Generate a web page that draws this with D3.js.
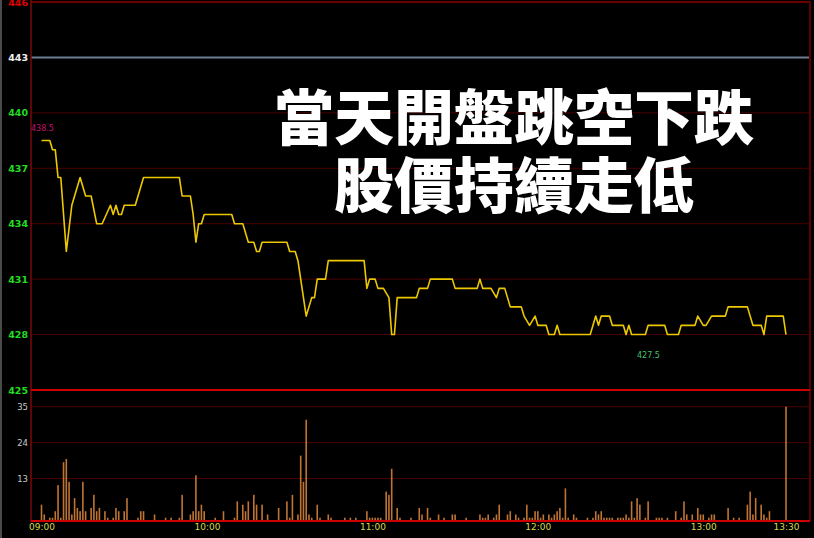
<!DOCTYPE html>
<html>
<head>
<meta charset="utf-8">
<script src="https://cdn.jsdelivr.net/npm/d3@7"></script>
<style>
  body { margin: 0; background: #000; }
  svg { display: block; }
</style>
</head>
<body>
<svg width="814" height="538"></svg>
<script>
// minutes after 09:00 and the price at each turn of the line
const priceTimes = [0, 3, 4, 5, 6, 7, 9, 11, 14, 16, 18, 20, 22, 25, 26, 27, 28, 29, 30, 34, 37, 50, 51, 54, 55, 56, 57, 58, 59, 69, 70, 73, 75, 77, 78, 79, 80, 89, 90, 92, 93, 96, 98, 99, 100, 103, 104, 117, 118, 119, 121, 122, 124, 126, 127, 128, 129, 136, 137, 140, 141, 149, 150, 158, 159, 160, 163, 165, 166, 168, 170, 174, 175, 177, 179, 180, 183, 184, 186, 187, 188, 199, 201, 202, 203, 206, 207, 211, 212, 213, 214, 219, 220, 226, 227, 231, 232, 237, 238, 240, 241, 243, 248, 249, 256, 258, 261, 262, 263, 269, 270];
const prices = [438.5, 438.5, 438.0, 438.0, 436.5, 436.5, 432.5, 435.0, 436.5, 435.5, 435.5, 434.0, 434.0, 435.0, 434.5, 435.0, 434.5, 434.5, 435.0, 435.0, 436.5, 436.5, 435.5, 435.5, 434.5, 433.0, 434.0, 434.0, 434.5, 434.5, 434.0, 434.0, 433.0, 433.0, 432.5, 432.5, 433.0, 433.0, 432.5, 432.5, 432.0, 429.0, 430.0, 430.0, 431.0, 431.0, 432.0, 432.0, 430.5, 431.0, 431.0, 430.5, 430.5, 430.0, 428.0, 428.0, 430.0, 430.0, 430.5, 430.5, 431.0, 431.0, 430.5, 430.5, 431.0, 430.5, 430.5, 430.0, 430.5, 430.5, 429.5, 429.5, 429.0, 428.5, 429.0, 428.5, 428.5, 428.0, 428.0, 428.5, 428.0, 428.0, 429.0, 428.5, 429.0, 429.0, 428.5, 428.5, 428.0, 428.5, 428.0, 428.0, 428.5, 428.5, 428.0, 428.0, 428.5, 428.5, 429.0, 428.5, 428.5, 429.0, 429.0, 429.5, 429.5, 428.5, 428.5, 428.0, 429.0, 429.0, 428.0];

// volume per minute
const volTimes = [0, 1, 3, 4, 5, 6, 7, 8, 9, 10, 11, 12, 13, 14, 15, 16, 18, 19, 20, 21, 23, 24, 26, 27, 28, 30, 31, 35, 36, 37, 41, 45, 47, 50, 51, 54, 55, 56, 57, 58, 59, 63, 66, 70, 71, 73, 74, 75, 77, 78, 80, 82, 86, 89, 90, 91, 93, 94, 95, 96, 97, 98, 100, 101, 104, 105, 110, 112, 114, 118, 119, 120, 121, 122, 123, 125, 126, 127, 129, 130, 134, 137, 138, 140, 141, 144, 146, 149, 150, 154, 159, 160, 161, 162, 164, 165, 166, 169, 170, 172, 173, 175, 176, 177, 178, 179, 180, 181, 182, 184, 185, 186, 187, 188, 189, 190, 191, 193, 194, 198, 200, 201, 202, 203, 204, 205, 206, 207, 209, 210, 211, 212, 213, 214, 215, 216, 217, 219, 220, 223, 224, 225, 227, 230, 232, 233, 234, 236, 238, 239, 240, 242, 243, 244, 249, 251, 253, 256, 257, 258, 259, 261, 262, 263, 264, 270];
const volumes = [5, 2, 1, 1, 3, 11, 1, 18, 19, 12, 2, 7, 4, 3, 12, 3, 4, 8, 3, 4, 3, 1, 1, 4, 3, 3, 7, 1, 3, 3, 2, 1, 1, 1, 8, 2, 3, 14, 3, 5, 3, 1, 3, 1, 6, 5, 3, 6, 8, 5, 5, 2, 4, 6, 1, 8, 2, 20, 12, 31, 2, 1, 5, 1, 2, 1, 1, 1, 1, 3, 1, 1, 1, 1, 1, 9, 8, 16, 4, 1, 1, 4, 2, 4, 1, 2, 1, 2, 2, 1, 2, 1, 1, 2, 1, 2, 5, 2, 3, 2, 1, 1, 5, 1, 1, 3, 3, 1, 2, 2, 1, 2, 3, 4, 1, 10, 1, 2, 1, 1, 1, 3, 2, 3, 1, 1, 1, 1, 1, 1, 1, 2, 1, 6, 1, 7, 5, 1, 6, 1, 1, 1, 1, 3, 1, 6, 2, 2, 4, 2, 2, 1, 2, 2, 4, 1, 1, 5, 9, 2, 7, 5, 2, 1, 3, 35];

const priceTicks = [425, 428, 431, 434, 437, 440, 443, 446];
const volTicks = [13, 24, 35];
const timeTicks = [0, 60, 120, 180, 240, 270];
const timeLabels = ["09:00", "10:00", "11:00", "12:00", "13:00", "13:30"];
const prevClose = 443;
const highPrice = 438.5;
const lowPrice = 427.5;
const titleLines = ["當天開盤跳空下跌", "股價持續走低"];

function draw() {
    const svg = d3.select("svg");
    const left = 31, right = 810;

    // scales
    const x = d3.scaleLinear().domain([0, 270]).range([41.5, 786]);
    const yP = d3.scaleLinear().domain([425, 446]).range([390, 2]);
    const yV = d3.scaleLinear().domain([0, 35]).range([521, 406.7]);

    // left gray edge
    svg.append("line")
        .attr("x1", 1).attr("x2", 1).attr("y1", 0).attr("y2", 538)
        .style("stroke", "#4a4a4a").style("stroke-width", 2);

    // price grid
    svg.append("g")
        .selectAll("line")
        .data(priceTicks.filter(d => d > 425 && d < 446 && d !== prevClose))
        .enter()
        .append("line")
        .attr("x1", left).attr("x2", right)
        .attr("y1", d => yP(d)).attr("y2", d => yP(d))
        .style("stroke", "#4a0000").style("stroke-width", 1);

    // previous close line
    svg.append("line")
        .attr("x1", left).attr("x2", right)
        .attr("y1", yP(prevClose)).attr("y2", yP(prevClose))
        .style("stroke", "#6d7c90").style("stroke-width", 2);

    // volume grid
    svg.append("g")
        .selectAll("line")
        .data(volTicks)
        .enter()
        .append("line")
        .attr("x1", left).attr("x2", right)
        .attr("y1", d => yV(d)).attr("y2", d => yV(d))
        .style("stroke", "#4a0000").style("stroke-width", 1);

    // frame
    svg.append("line")
        .attr("x1", left).attr("x2", right).attr("y1", yP(446)).attr("y2", yP(446))
        .style("stroke", "#6a0000").style("stroke-width", 2);
    svg.append("line")
        .attr("x1", right).attr("x2", right).attr("y1", 1).attr("y2", 521)
        .style("stroke", "#5a0000").style("stroke-width", 2);
    svg.append("line")
        .attr("x1", left).attr("x2", left).attr("y1", 0).attr("y2", 522)
        .style("stroke", "#7a0a0a").style("stroke-width", 1.5);

    // title text, two lines in one block
    const title = svg.append("text")
        .attr("text-anchor", "middle")
        .style("font-family", "'Noto Sans CJK TC', 'Noto Sans CJK SC', sans-serif")
        .style("font-weight", "900")
        .style("font-size", "60px")
        .style("fill", "#fff");
    title.selectAll("tspan")
        .data(titleLines)
        .enter()
        .append("tspan")
        .attr("x", 514)
        .attr("y", (d, i) => 113 + i * 68)
        .attr("dominant-baseline", "central")
        .text(d => d);

    // volume bars
    svg.append("g")
        .selectAll("rect")
        .data(volTimes)
        .enter()
        .append("rect")
        .attr("x", d => x(d) - 0.8)
        .attr("y", (d, i) => yV(volumes[i]))
        .attr("width", 1.6)
        .attr("height", (d, i) => yV(0) - yV(volumes[i]))
        .style("fill", "#bf7434");

    // price line
    const line = d3.line()
        .x(d => x(d))
        .y((d, i) => yP(prices[i]));
    svg.append("path")
        .datum(priceTimes)
        .attr("d", line)
        .style("fill", "none")
        .style("stroke", "#ecc800")
        .style("stroke-width", 1.6)
        .style("stroke-linejoin", "round");

    // divider and bottom axis line
    svg.append("line")
        .attr("x1", left).attr("x2", right).attr("y1", yP(425)).attr("y2", yP(425))
        .style("stroke", "#c80000").style("stroke-width", 2);
    svg.append("line")
        .attr("x1", left).attr("x2", right).attr("y1", yV(0)).attr("y2", yV(0))
        .style("stroke", "#d00000").style("stroke-width", 2);

    // price axis
    const pAxis = svg.append("g")
        .attr("transform", `translate(${left},0)`)
        .call(d3.axisLeft(yP).tickValues(priceTicks).tickSize(0).tickPadding(3));
    pAxis.select(".domain").remove();
    pAxis.selectAll("text")
        .style("font-family", "'DejaVu Sans', sans-serif")
        .style("font-weight", "bold")
        .style("font-size", "9.5px")
        .style("fill", d => d > prevClose ? "#e00000" : d === prevClose ? "#f0f0f0" : "#22dd22");

    // volume axis
    const vAxis = svg.append("g")
        .attr("transform", `translate(${left},0)`)
        .call(d3.axisLeft(yV).tickValues(volTicks).tickSize(0).tickPadding(3));
    vAxis.select(".domain").remove();
    vAxis.selectAll("text")
        .style("font-family", "'DejaVu Sans', sans-serif")
        .style("font-size", "8.5px")
        .style("fill", "#c8c8c8");

    // time axis
    const tAxis = svg.append("g")
        .attr("transform", `translate(0,${yV(0)})`)
        .call(d3.axisBottom(x).tickValues(timeTicks).tickSize(0).tickPadding(3)
            .tickFormat((d, i) => timeLabels[i]));
    tAxis.select(".domain").remove();
    tAxis.selectAll("text")
        .style("font-family", "'DejaVu Sans', sans-serif")
        .style("font-size", "9px")
        .style("fill", "#d8d84a");

    // high / low labels
    svg.append("text")
        .attr("x", left)
        .attr("y", yP(highPrice) - 10)
        .style("font-family", "'DejaVu Sans', sans-serif")
        .style("font-size", "8px")
        .style("fill", "#c0106c")
        .text(highPrice.toFixed(1));
    svg.append("text")
        .attr("x", 637)
        .attr("y", yP(lowPrice) + 14)
        .style("font-family", "'DejaVu Sans', sans-serif")
        .style("font-size", "8px")
        .style("fill", "#44c070")
        .text(lowPrice.toFixed(1));
}
draw();
</script>
</body>
</html>
